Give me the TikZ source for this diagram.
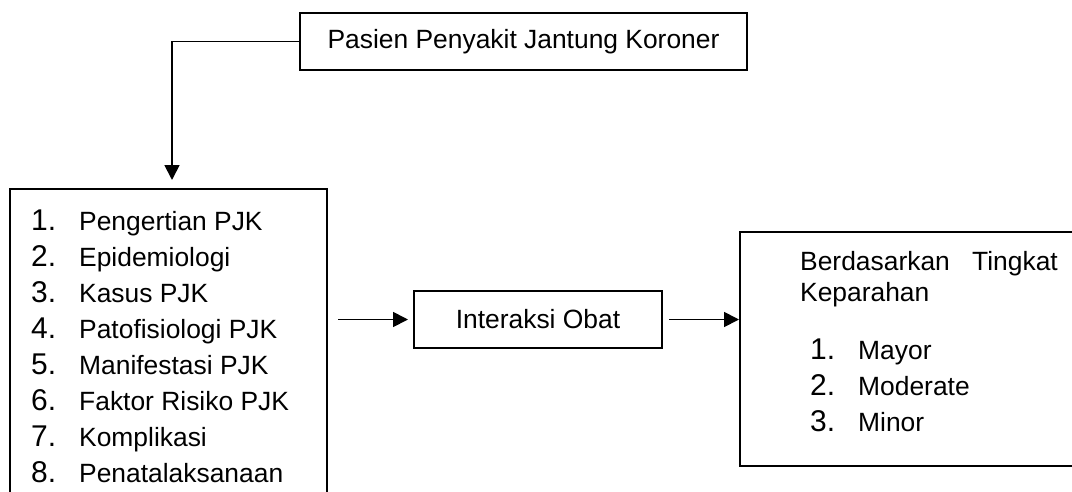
\documentclass[tikz,border=0pt]{standalone}
\usepackage{fontspec}
\setmainfont{Liberation Sans}
\usetikzlibrary{arrows.meta}
\begin{document}
\begin{tikzpicture}[x=1pt,y=-1pt,
  box/.style={draw, line width=2.6pt, inner sep=0pt, outer sep=0pt, anchor=north west},
  link/.style={line width=1.8pt},
  arr/.style={link, -{Triangle[length=15pt,width=15pt]}},
  body/.style={font=\fontsize{26.4}{30}\selectfont},
  txt/.style={body, inner sep=0pt, anchor=base west},
  txtr/.style={body, inner sep=0pt, anchor=base east},
  num/.style={font=\fontsize{30}{34}\selectfont, inner sep=0pt, anchor=base west}]

% page frame; the list box runs past the lower edge
\clip (0,0) rectangle (1072,491);

% boxes
\node[box, body, minimum width=447pt, minimum height=57pt] (top) at (300,13) {Pasien Penyakit Jantung Koroner};
\node[box, minimum width=317pt, minimum height=340pt] (left) at (10,189) {};
\node[box, body, minimum width=248pt, minimum height=57pt] (inter) at (414,291) {Interaksi Obat};
\node[box, minimum width=360pt, minimum height=234pt] (right) at (740,232) {};

% topics list
\foreach \n/\t [count=\i from 0] in {1/Pengertian PJK, 2/Epidemiologi, 3/Kasus PJK,
    4/Patofisiologi PJK, 5/Manifestasi PJK, 6/Faktor Risiko PJK, 7/Komplikasi, 8/Penatalaksanaan} {
  \node[num] (ln\n) at (31,230+36*\i) {\n.};
  \node[txt] (lt\n) at (79,230+36*\i) {\t};
}

% severity classes
\node[txt] (h1) at (800,270) {Berdasarkan};
\node[txtr] (h2) at (1058,270) {Tingkat};
\node[txt] (h3) at (800,301) {Keparahan};
\foreach \n/\t [count=\i from 0] in {1/Mayor, 2/Moderate, 3/Minor} {
  \node[num] (rn\n) at (810,359+36*\i) {\n.};
  \node[txt] (rt\n) at (858,359+36*\i) {\t};
}

% connectors
\coordinate (bend) at (172,41.5);
\draw[arr, shorten >=9pt] (top.west) -- (bend) -- (bend |- left.north);
\draw[arr, shorten <=11pt, shorten >=6pt] (left.east |- inter.west) -- (inter.west);
\draw[arr, shorten <=7pt, shorten >=1pt] (inter.east) -- (inter.east -| right.west);
\end{tikzpicture}
\end{document}
